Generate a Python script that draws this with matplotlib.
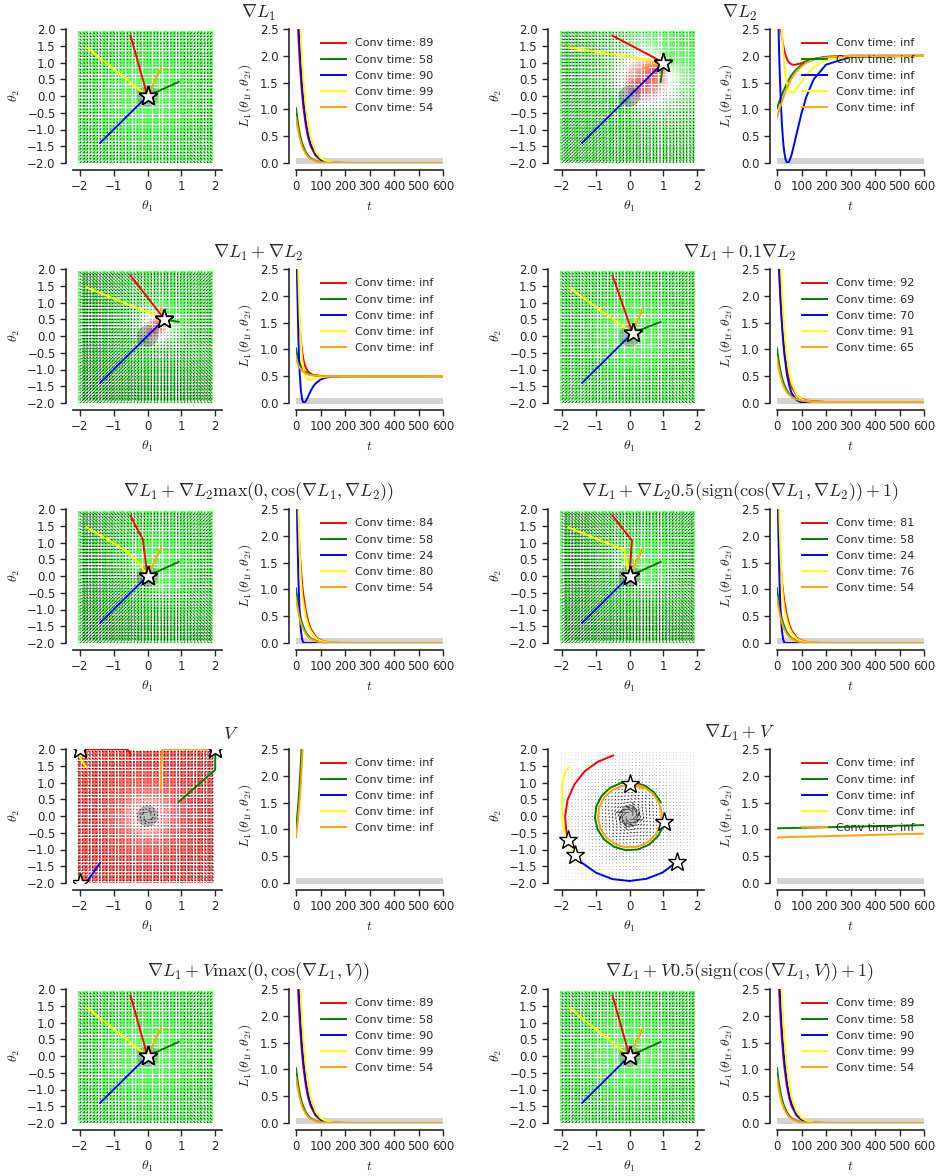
import numpy as np
import matplotlib
matplotlib.use("Agg")
import matplotlib.pyplot as plt
from matplotlib.colors import LinearSegmentedColormap
from matplotlib.patches import Circle

plt.rcParams['font.family'] = ['DejaVu Sans']
plt.rcParams['mathtext.fontset'] = 'cm'
plt.rcParams['text.color'] = '.15'
plt.rcParams['axes.labelcolor'] = '.15'
plt.rcParams['xtick.color'] = '.15'
plt.rcParams['ytick.color'] = '.15'

colors = ['red', 'green', 'blue', 'yellow', 'orange']

titles = [
    r'$\nabla L_1$',
    r'$\nabla L_2$',
    r'$\nabla L_1 + \nabla L_2$',
    r'$\nabla L_1 + 0.1\nabla L_2$',
    r'$\nabla L_1 + \nabla L_2 \max(0, \cos(\nabla L_1, \nabla L_2))$',
    r'$\nabla L_1 + \nabla L_2 0.5(\mathrm{sign}(\cos(\nabla L_1, \nabla L_2)) + 1)$',
    r'$V$',
    r'$\nabla L_1 + V$',
    r'$\nabla L_1 + V \max(0, \cos(\nabla L_1, V))$',
    r'$\nabla L_1 + V 0.5(\mathrm{sign}(\cos(\nabla L_1, V)) + 1)$',
]
kinds = ['l1', 'l2', 'sum', 'small', 'max', 'sign', 'v', 'rot', 'vmax', 'vsign']

conv_times = [
    [89, 58, 90, 99, 54],
    ['inf'] * 5,
    ['inf'] * 5,
    [92, 69, 70, 91, 65],
    [84, 58, 24, 80, 54],
    [81, 58, 24, 76, 54],
    ['inf'] * 5,
    ['inf'] * 5,
    [89, 58, 90, 99, 54],
    [89, 58, 90, 99, 54],
]

# starting points of the five runs
start_x = [-0.5, 0.92, -1.4, -1.8, 0.4]
start_y = [1.8, 0.42, -1.4, 1.45, 0.83]

# ---- loss curves L1(theta_t) ----
t_a = [0, 5, 10, 15, 20, 25, 30, 40, 50, 60, 80, 100, 120, 150, 200, 300, 600]
t_b = [0, 5, 10, 15, 20, 25, 30, 35, 40, 43, 46, 50, 60, 70, 80, 100, 120, 150, 200, 300, 600]
t_c = [0, 5, 10, 15, 20, 25, 30, 33, 36, 40, 50, 60, 70, 80, 100, 120, 150, 200, 600]
t_v = [0, 5, 10, 15, 20, 25, 30, 40, 60, 100, 600]
t_r = [0, 100, 200, 300, 400, 500, 600]

loss_l1 = [
    [3.49, 2.85, 2.33, 1.91, 1.56, 1.27, 1.04, 0.694, 0.464, 0.310, 0.138, 0.061, 0.027, 0.008, 0.001, 0, 0],
    [1.02, 0.833, 0.681, 0.557, 0.455, 0.371, 0.304, 0.203, 0.136, 0.090, 0.040, 0.018, 0.008, 0.002, 0, 0, 0],
    [3.92, 3.20, 2.62, 2.14, 1.75, 1.43, 1.17, 0.780, 0.521, 0.348, 0.155, 0.069, 0.031, 0.009, 0.001, 0, 0],
    [5.34, 4.36, 3.57, 2.92, 2.38, 1.94, 1.59, 1.06, 0.710, 0.474, 0.211, 0.094, 0.042, 0.012, 0.002, 0, 0],
    [0.85, 0.694, 0.568, 0.464, 0.379, 0.309, 0.253, 0.169, 0.113, 0.075, 0.034, 0.015, 0.007, 0.002, 0, 0, 0],
]
loss_l2 = [
    [3.49, 3.10, 2.79, 2.54, 2.35, 2.21, 2.10, 2.01, 1.95, 1.92, 1.90, 1.87, 1.84, 1.83, 1.84, 1.86, 1.90, 1.94, 1.98, 2.0, 2.0],
    [1.02, 1.09, 1.15, 1.21, 1.27, 1.33, 1.38, 1.43, 1.48, 1.51, 1.53, 1.57, 1.64, 1.70, 1.75, 1.83, 1.89, 1.94, 1.98, 2.0, 2.0],
    [3.92, 2.74, 1.85, 1.20, 0.727, 0.405, 0.192, 0.067, 0.010, 0.0, 0.005, 0.032, 0.162, 0.348, 0.545, 0.927, 1.239, 1.563, 1.835, 1.978, 2.0],
    [5.34, 4.32, 3.53, 2.92, 2.45, 2.09, 1.83, 1.64, 1.50, 1.44, 1.40, 1.35, 1.31, 1.33, 1.38, 1.52, 1.65, 1.79, 1.92, 1.99, 2.0],
    [0.85, 0.93, 1.00, 1.07, 1.14, 1.21, 1.28, 1.34, 1.39, 1.42, 1.45, 1.49, 1.58, 1.65, 1.71, 1.80, 1.87, 1.93, 1.97, 2.0, 2.0],
]
loss_sum = [
    [3.49, 2.53, 1.89, 1.45, 1.16, 0.96, 0.82, 0.76, 0.71, 0.66, 0.585, 0.546, 0.526, 0.515, 0.505, 0.502, 0.50, 0.50, 0.50],
    [1.02, 0.898, 0.807, 0.738, 0.686, 0.647, 0.616, 0.601, 0.588, 0.573, 0.547, 0.531, 0.520, 0.513, 0.506, 0.502, 0.50, 0.50, 0.50],
    [3.92, 2.20, 1.166, 0.562, 0.231, 0.069, 0.007, 0.0, 0.008, 0.034, 0.128, 0.226, 0.305, 0.365, 0.438, 0.472, 0.492, 0.499, 0.50],
    [5.34, 3.51, 2.34, 1.59, 1.11, 0.82, 0.64, 0.57, 0.52, 0.47, 0.43, 0.43, 0.443, 0.457, 0.479, 0.490, 0.497, 0.50, 0.50],
    [0.85, 0.766, 0.706, 0.660, 0.625, 0.599, 0.578, 0.568, 0.559, 0.549, 0.532, 0.521, 0.514, 0.509, 0.504, 0.502, 0.50, 0.50, 0.50],
]
loss_small = [
    [3.49, 2.82, 2.27, 1.84, 1.49, 1.21, 0.98, 0.652, 0.437, 0.296, 0.144, 0.077, 0.046, 0.028, 0.019, 0.017, 0.0165],
    [1.02, 0.842, 0.695, 0.575, 0.478, 0.398, 0.334, 0.237, 0.172, 0.127, 0.075, 0.049, 0.035, 0.025, 0.019, 0.017, 0.0165],
    [3.92, 3.09, 2.43, 1.91, 1.50, 1.17, 0.909, 0.545, 0.319, 0.181, 0.052, 0.010, 0.0003, 0.003, 0.011, 0.016, 0.0165],
    [5.34, 4.27, 3.41, 2.73, 2.18, 1.74, 1.39, 0.893, 0.572, 0.366, 0.155, 0.069, 0.036, 0.020, 0.016, 0.0164, 0.0165],
    [0.85, 0.701, 0.580, 0.482, 0.402, 0.336, 0.283, 0.203, 0.149, 0.111, 0.067, 0.045, 0.033, 0.024, 0.019, 0.017, 0.0165],
]
loss_max = [
    [3.49, 2.75, 2.15, 1.72, 1.38, 1.10, 0.899, 0.60, 0.40, 0.268, 0.119, 0.053, 0.024, 0.007, 0.001, 0, 0],
    loss_l1[1],
    [3.92, 2.20, 1.166, 0.562, 0.231, 0.069, 0.007, 0, 0, 0, 0, 0, 0, 0, 0, 0, 0],
    [5.34, 3.60, 2.45, 1.70, 1.18, 0.90, 0.74, 0.495, 0.33, 0.221, 0.098, 0.044, 0.020, 0.006, 0.001, 0, 0],
    loss_l1[4],
]
loss_sign = [
    [3.49, 2.53, 1.89, 1.45, 1.16, 0.95, 0.776, 0.518, 0.346, 0.231, 0.103, 0.046, 0.021, 0.006, 0.001, 0, 0],
    loss_l1[1],
    loss_max[2],
    [5.34, 3.51, 2.34, 1.59, 1.11, 0.82, 0.64, 0.428, 0.286, 0.191, 0.085, 0.038, 0.017, 0.005, 0.001, 0, 0],
    loss_l1[4],
]
loss_v = [
    [3.49, 4.26, 5.2, 6.3, 7.2, 7.6, 7.8, 7.9, 7.9, 7.9, 7.9],
    [1.02, 1.245, 1.52, 1.85, 2.26, 2.76, 3.36, 5.0, 7.0, 7.9, 7.9],
    [3.92, 4.78, 5.8, 7.1, 7.6, 7.8, 7.9, 7.9, 7.9, 7.9, 7.9],
    [5.34, 6.4, 7.4, 7.7, 7.8, 7.9, 7.9, 7.9, 7.9, 7.9, 7.9],
    [0.85, 1.04, 1.27, 1.54, 1.88, 2.30, 2.80, 4.2, 6.5, 7.9, 7.9],
]
loss_rot = [
    [3.49, 3.50, 3.52, 3.53, 3.55, 3.56, 3.58],
    [1.02, 1.03, 1.04, 1.05, 1.06, 1.07, 1.08],
    [3.92, 3.93, 3.93, 3.94, 3.94, 3.95, 3.95],
    [5.34, 4.20, 4.00, 3.99, 3.99, 4.00, 4.00],
    [0.85, 0.862, 0.874, 0.886, 0.898, 0.91, 0.92],
]
loss_t = [t_a, t_b, t_c, t_a, t_a, t_a, t_v, t_r, t_a, t_a]
loss_vals = [loss_l1, loss_l2, loss_sum, loss_small, loss_max, loss_sign,
             loss_v, loss_rot, loss_l1, loss_l1]

# ---- trajectories in parameter space ----
# straight runs towards one end point
end_points = {0: (0.0, 0.0), 1: (1.0, 1.0), 2: (0.5, 0.5), 3: (0.09, 0.09),
              8: (0.0, 0.0), 9: (0.0, 0.0)}

path_max = [
    ([-0.5, -0.33, -0.22, -0.14, 0.0], [1.8, 1.45, 1.25, 1.1, 0.0]),
    ([0.92, 0.0], [0.42, 0.0]),
    ([-1.4, 0.0], [-1.4, 0.0]),
    ([-1.8, -1.2, -0.6, -0.25, 0.0], [1.45, 1.1, 0.72, 0.4, 0.0]),
    ([0.4, 0.0], [0.83, 0.0]),
]
path_sign = [
    ([-0.5, 0.07, 0.0], [1.8, 1.06, 0.0]),
    ([0.92, 0.0], [0.42, 0.0]),
    ([-1.4, 0.0], [-1.4, 0.0]),
    ([-1.8, -0.15, 0.0], [1.45, 0.77, 0.0]),
    ([0.4, 0.0], [0.83, 0.0]),
]
path_v = [
    ([-0.5, -0.53, -0.62, -1.85, -2.0], [1.8, 1.93, 1.99, 1.99, 1.99]),
    ([0.92, 2.0, 2.0], [0.42, 1.38, 1.99]),
    ([-1.4, -1.8, -2.0], [-1.4, -1.98, -1.99]),
    ([-1.8, -1.93, -2.0, -2.0], [1.45, 1.62, 1.78, 1.99]),
    ([0.4, 0.4, 0.45, 1.85, 2.0], [0.83, 1.5, 1.99, 1.99, 1.99]),
]
# runs of grad L1 + V, in polar form (angle in degrees, radius)
rot_ang = [
    [105, 120, 135, 150, 165, 180, 195, 202],
    [24, 44, 64, 84, 104, 124, 144, 164, 184, 204, 224, 244, 264, 284, 304, 324, 340, 350],
    [225, 240, 255, 270, 285, 300, 316],
    [141, 147, 156, 171, 186, 196, 206, 216],
    [64, 84, 104, 124, 144, 164, 184, 204, 224, 244, 264, 284, 304, 324, 344, 364, 384, 404, 424, 444, 450],
]
rot_rad = [
    [1.87, 1.87, 1.88, 1.88, 1.89, 1.90, 1.93, 1.95],
    [1.01, 1.012, 1.013, 1.015, 1.016, 1.018, 1.019, 1.021, 1.022, 1.024, 1.025, 1.027,
     1.028, 1.03, 1.031, 1.033, 1.034, 1.035],
    [1.98, 1.96, 1.95, 1.94, 1.94, 1.95, 1.96],
    [2.31, 2.30, 2.18, 2.01, 1.99, 1.98, 1.95, 1.99],
    [0.92, 0.922, 0.925, 0.927, 0.93, 0.932, 0.935, 0.937, 0.94, 0.942, 0.945, 0.947,
     0.95, 0.952, 0.955, 0.957, 0.96, 0.962, 0.965, 0.967, 0.97],
]


def get_paths(p):
    if p in end_points:
        ex, ey = end_points[p]
        return [([sx, ex], [sy, ey]) for sx, sy in zip(start_x, start_y)]
    if p == 4:
        return path_max
    if p == 5:
        return path_sign
    if p == 6:
        return path_v
    out = []
    for ang, rad in zip(rot_ang, rot_rad):
        a = np.deg2rad(ang)
        out.append((np.array(rad) * np.cos(a), np.array(rad) * np.sin(a)))
    return out


# ---- update fields on the grid ----
grid = np.round(np.arange(-20, 20) * 0.1, 1)
GX, GY = np.meshgrid(grid, grid)


def cosine(ax_, ay_, bx, by):
    with np.errstate(invalid='ignore', divide='ignore'):
        c = (ax_ * bx + ay_ * by) / (np.hypot(ax_, ay_) * np.hypot(bx, by))
    return np.nan_to_num(c)


def field(kind):
    g1x, g1y = 2 * GX, 2 * GY
    g2x, g2y = 2 * (GX - 1), 2 * (GY - 1)
    r2 = GX ** 2 + GY ** 2
    with np.errstate(invalid='ignore', divide='ignore'):
        rx = np.where(r2 > 0, GY / r2, 0.0)
        ry = np.where(r2 > 0, -GX / r2, 0.0)
    vx, vy = -g1x + rx, -g1y + ry
    c12 = cosine(g1x, g1y, g2x, g2y)
    c1v = cosine(g1x, g1y, vx, vy)
    if kind == 'l1':
        return g1x, g1y
    if kind == 'l2':
        return g2x, g2y
    if kind == 'sum':
        return g1x + g2x, g1y + g2y
    if kind == 'small':
        return g1x + 0.1 * g2x, g1y + 0.1 * g2y
    if kind == 'max':
        w = np.maximum(0, c12)
        return g1x + w * g2x, g1y + w * g2y
    if kind == 'sign':
        w = 0.5 * (np.sign(c12) + 1)
        return g1x + w * g2x, g1y + w * g2y
    if kind == 'v':
        return vx, vy
    if kind == 'rot':
        return g1x + vx, g1y + vy
    if kind == 'vmax':
        w = np.maximum(0, c1v)
        return g1x + w * vx, g1y + w * vy
    w = 0.5 * (np.sign(c1v) + 1)
    return g1x + w * vx, g1y + w * vy


cmap = LinearSegmentedColormap.from_list('rwg', ['red', 'white', 'lime'])

W, H = 938, 1176
col_left = [73, 296, 555, 777]
col_width = [149, 147, 149, 147]
row_top = [29, 269, 509, 749, 989]
box_h = 134
title_x = {6: 231}


def style(ax):
    for s in ['top', 'right']:
        ax.spines[s].set_visible(False)
    for s in ['left', 'bottom']:
        ax.spines[s].set_position(('outward', 5))
        ax.spines[s].set_color('.15')
        ax.spines[s].set_linewidth(1.2)
    ax.tick_params(direction='out', length=4, width=1, labelsize=8.5)


fig = plt.figure(figsize=(W / 100, H / 100), dpi=100)

for p in range(10):
    row, side = p // 2, p % 2
    c0, c1 = 2 * side, 2 * side + 1
    top = row_top[row]
    axf = fig.add_axes([col_left[c0] / W, 1 - (top + box_h) / H, col_width[c0] / W, box_h / H])
    axl = fig.add_axes([col_left[c1] / W, 1 - (top + box_h) / H, col_width[c1] / W, box_h / H])

    kind = kinds[p]
    ux, uy = field(kind)
    cval = cosine(2 * GX, 2 * GY, ux, uy)
    axf.scatter(GX.ravel(), GY.ravel(), c=cval.ravel(), cmap=cmap, vmin=-1, vmax=1,
                marker='s', s=4, linewidths=0, alpha=0.6, zorder=1)
    axf.add_patch(Circle((0, 0), np.sqrt(0.1), color='gray', alpha=0.5, lw=0, zorder=2))
    scale = 24 if kind == 'rot' else 62
    axf.quiver(GX, GY, -ux, -uy, angles='xy', scale_units='xy', scale=scale,
               color='k', width=0.0035, headwidth=3, headlength=3.5, headaxislength=3,
               minlength=0.6, alpha=0.9, zorder=3)
    for (px, py), col in zip(get_paths(p), colors):
        axf.plot(px, py, color=col, lw=1.4, zorder=4)
        axf.plot(px[-1], py[-1], marker='*', ms=14, mfc='white', mec='k', mew=1,
                 zorder=5, linestyle='none')
    axf.set_xlim(-2.2, 2.2)
    axf.set_ylim(-2, 2)
    axf.set_xticks([-2, -1, 0, 1, 2])
    axf.set_yticks(np.arange(-2, 2.01, 0.5))
    axf.set_xlabel(r'$\theta_1$', fontsize=10)
    axf.set_ylabel(r'$\theta_2$', fontsize=10)
    style(axf)

    axl.fill_between([0, 600], -0.015, 0.1, color='lightgray', lw=0, clip_on=False)
    for vals, col, ct in zip(loss_vals[p], colors, conv_times[p]):
        axl.plot(loss_t[p], vals, color=col, lw=1.4, label='Conv time: %s' % ct)
    axl.set_xlim(0, 600)
    axl.set_ylim(0, 2.5)
    axl.set_xticks(range(0, 601, 100))
    axl.set_yticks(np.arange(0, 2.51, 0.5))
    axl.set_xlabel(r'$t$', fontsize=10)
    axl.set_ylabel(r'$L_1(\theta_{1t}, \theta_{2t})$', fontsize=10)
    style(axl)
    axl.legend(loc='upper right', frameon=False, fontsize=8, handlelength=2.3,
               labelspacing=0.55, borderaxespad=0.45)

    cx = title_x.get(p, (col_left[c0] + col_left[c1] + col_width[c1]) / 2)
    fig.text(cx / W, 1 - (top - 6) / H, titles[p], ha='center', va='bottom', fontsize=13)

fig.savefig('out.png', dpi=100)
